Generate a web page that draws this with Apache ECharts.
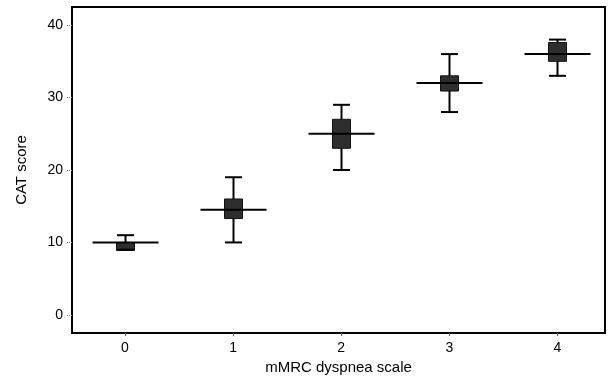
<!DOCTYPE html>
<html>
<head>
<meta charset="utf-8">
<script src="https://cdn.jsdelivr.net/npm/echarts@6/dist/echarts.min.js"></script>
<style>
html,body{margin:0;padding:0;background:#fff;}
#chart{width:612px;height:381px;}
</style>
</head>
<body>
<div id="chart"></div>
<script>
const categories = [0, 1, 2, 3, 4];
const lowerWhisker = [9, 10, 20, 28, 33];
const q1 = [8.9, 13.3, 23, 30.9, 35];
const median = [10, 14.5, 25, 32, 36];
const q3 = [10, 16, 27, 33, 37.6];
const upperWhisker = [11, 19, 29, 36, 38];
const xTicks = [0, 1, 2, 3, 4];
const yTicks = [0, 10, 20, 30, 40];

const data = categories.map((c, i) => [c, lowerWhisker[i], q1[i], median[i], q3[i], upperWhisker[i]]);

const chart = echarts.init(document.getElementById('chart'));
chart.setOption({
  animation: false,
  grid: {left: 72, right: 7, top: 7, bottom: 48, show: true, borderColor: '#000', borderWidth: 2, backgroundColor: '#fff'},
  xAxis: {
    type: 'value', min: -0.49, max: 4.44,
    name: 'mMRC dyspnea scale', nameLocation: 'middle', nameGap: 25,
    nameTextStyle: {fontFamily: 'Liberation Sans, Arial, sans-serif', fontSize: 15, color: '#000'},
    axisLine: {show: false, onZero: false},
    splitLine: {show: false},
    axisTick: {show: true, length: 3, customValues: xTicks, lineStyle: {color: '#555', width: 1}},
    axisLabel: {customValues: xTicks, margin: 8, fontFamily: 'Liberation Sans, Arial, sans-serif', fontSize: 14, color: '#000'}
  },
  yAxis: {
    type: 'value', min: -2.5, max: 42.5,
    name: 'CAT score', nameLocation: 'middle', nameGap: 43,
    nameTextStyle: {fontFamily: 'Liberation Sans, Arial, sans-serif', fontSize: 15, color: '#000'},
    axisLine: {show: false, onZero: false},
    splitLine: {show: false},
    axisTick: {show: true, length: 5, customValues: yTicks, lineStyle: {color: '#888', width: 1, type: 'dotted'}},
    axisLabel: {customValues: yTicks, margin: 9, fontFamily: 'Liberation Sans, Arial, sans-serif', fontSize: 14, color: '#000'}
  },
  series: [{
    type: 'custom',
    data: data,
    encode: {x: 0, y: [1, 2, 3, 4, 5]},
    renderItem: function (params, api) {
      const x = api.value(0);
      const lw = api.coord([x, api.value(1)]);
      const b1 = api.coord([x, api.value(2)]);
      const md = api.coord([x, api.value(3)]);
      const b3 = api.coord([x, api.value(4)]);
      const uw = api.coord([x, api.value(5)]);
      const cx = Math.round(lw[0]) + 0.5;
      const boxW = 18, capW = 17, medW = 66;
      const ls = {stroke: '#000', lineWidth: 2};
      return {
        type: 'group',
        children: [
          {type: 'line', shape: {x1: cx, y1: uw[1], x2: cx, y2: lw[1]}, style: ls},
          {type: 'rect', shape: {x: cx - boxW / 2, y: b3[1], width: boxW, height: b1[1] - b3[1]}, style: {fill: '#2e2e2e', stroke: '#111', lineWidth: 1}},
          {type: 'line', shape: {x1: cx - capW / 2, y1: uw[1], x2: cx + capW / 2, y2: uw[1]}, style: ls},
          {type: 'line', shape: {x1: cx - capW / 2, y1: lw[1], x2: cx + capW / 2, y2: lw[1]}, style: ls},
          {type: 'line', shape: {x1: cx - medW / 2, y1: md[1], x2: cx + medW / 2, y2: md[1]}, style: ls}
        ]
      };
    }
  }]
});
</script>
</body>
</html>
